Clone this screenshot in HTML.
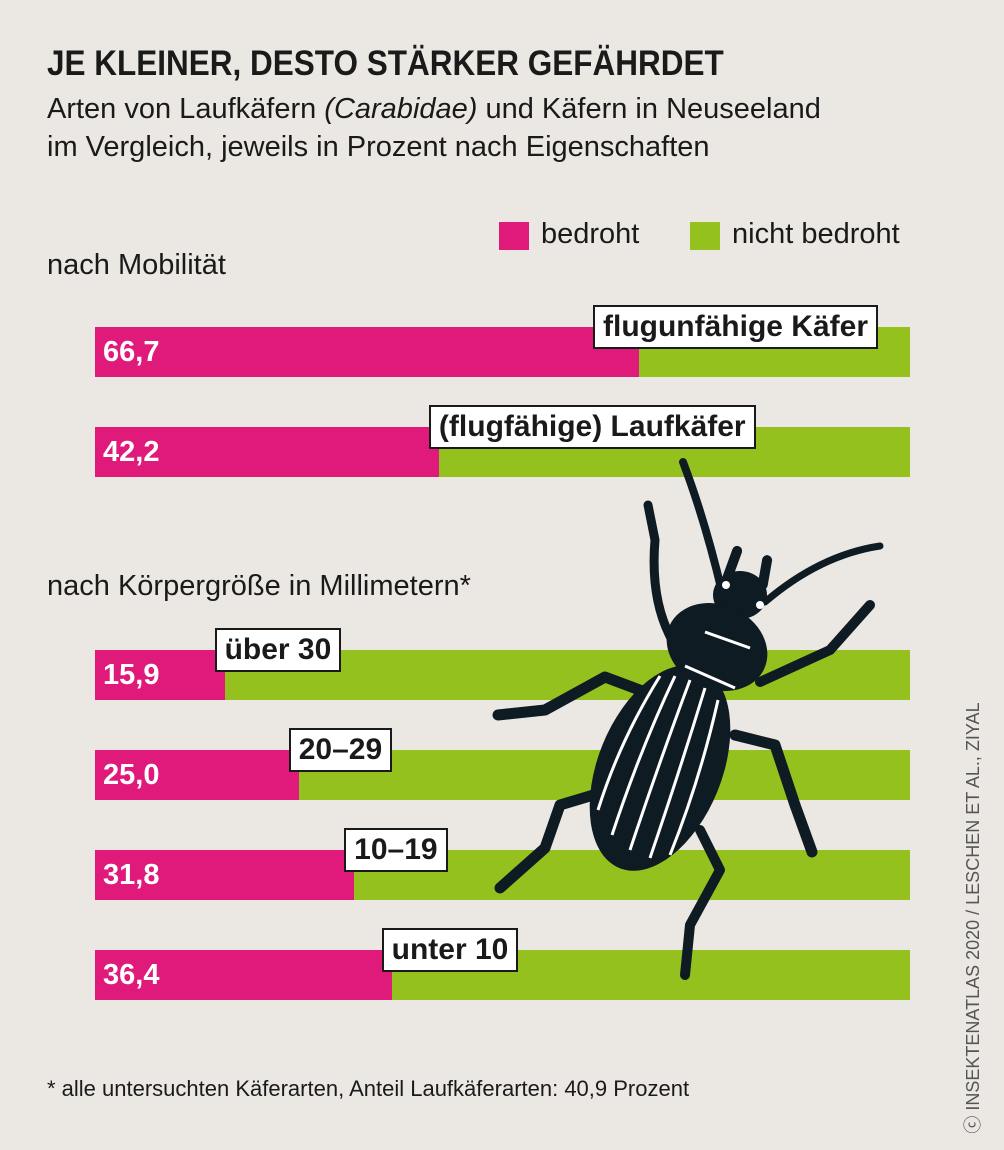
<!DOCTYPE html>
<html><head><meta charset="utf-8">
<style>
body{margin:0;background:#ebe8e4;}
#root{position:relative;width:1004px;height:1150px;background:#ebe8e4;overflow:hidden;font-family:"Liberation Sans Narrow","Liberation Sans",sans-serif;color:#1a1a1a;}
.t{position:absolute;white-space:nowrap;}
.bar{position:absolute;height:50px;}
.val{position:absolute;color:#fff;font-weight:bold;font-size:29px;line-height:50px;}
.box{position:absolute;background:#fff;border:2px solid #1a1a1a;font-weight:bold;font-size:30px;line-height:40px;padding:0 8px;box-sizing:border-box;height:44px;text-align:center;white-space:nowrap;}
</style></head>
<body>
<div id="root">
<div class="t" style="left:47px;top:44px;font-size:35px;font-weight:bold;transform:scaleX(0.9);transform-origin:0 0;">JE KLEINER, DESTO STÄRKER GEFÄHRDET</div>
<div class="t" style="left:47px;top:90px;font-size:29px;line-height:38px;">Arten von Laufkäfern <i>(Carabidae)</i> und Käfern in Neuseeland<br>im Vergleich, jeweils in Prozent nach Eigenschaften</div>
<div style="position:absolute;left:499px;top:222px;width:30px;height:28px;background:#e01a7b;"></div>
<div class="t" style="left:541px;top:218px;font-size:29px;">bedroht</div>
<div style="position:absolute;left:690px;top:222px;width:30px;height:28px;background:#95c11f;"></div>
<div class="t" style="left:732px;top:218px;font-size:29px;">nicht bedroht</div>
<div class="t" style="left:47px;top:249px;font-size:29px;">nach Mobilität</div>
<div class="t" style="left:47px;top:570px;font-size:29px;">nach Körpergröße in Millimetern*</div>
<div id="chart"></div>
<svg style="position:absolute;left:0;top:0" width="1004" height="1150">
<g fill="none" stroke="#0f1b22" stroke-linecap="round" stroke-linejoin="round">
<path d="M722 592 Q705 520 683 462" stroke-width="8"/>
<path d="M765 602 Q820 555 880 546" stroke-width="7"/>
<path d="M672 640 Q650 600 655 540 L648 505" stroke-width="9"/>
<path d="M760 682 L830 650 L870 605" stroke-width="10"/>
<path d="M645 692 L605 677 L545 710 L498 715" stroke-width="11"/>
<path d="M735 735 L775 745 L795 805 L812 852" stroke-width="11"/>
<path d="M610 790 L560 805 L545 848 L500 888" stroke-width="11"/>
<path d="M700 830 L720 870 L690 925 L685 975" stroke-width="10"/>
</g>
<g fill="#0f1b22">
<ellipse cx="740" cy="595" rx="27" ry="24"/>
<rect x="727" y="545" width="10" height="40" rx="5" transform="rotate(20 732 565)"/>
<rect x="760" y="555" width="10" height="35" rx="5" transform="rotate(10 765 572)"/>
<ellipse cx="717" cy="647" rx="52" ry="42" transform="rotate(25 717 647)"/>
<ellipse cx="660" cy="768" rx="62" ry="108" transform="rotate(22 660 768)"/>
</g>
<g stroke="#fff" stroke-width="3" fill="none">
<path d="M690 680 Q660 760 630 850"/><path d="M705 688 Q680 770 650 858"/><path d="M675 676 Q640 750 612 835"/><path d="M718 700 Q700 780 670 855"/><path d="M660 676 Q620 740 598 810"/>
<path d="M685 666 L735 688"/><path d="M705 632 L750 648"/>
</g>
<circle cx="726" cy="585" r="4" fill="#fff"/><circle cx="760" cy="605" r="4" fill="#fff"/>
</svg>
<div id="labels"></div>
<div class="t" style="left:47px;top:1076px;font-size:22px;">* alle untersuchten Käferarten, Anteil Laufkäferarten: 40,9 Prozent</div>
<div class="t" style="left:972px;top:918px;font-size:18px;color:#555;transform:translate(-50%,-50%) rotate(-90deg);">ⓒ INSEKTENATLAS 2020 / LESCHEN ET AL., ZIYAL</div>
</div>
<script>
const categories=["flugunfähige Käfer","(flugfähige) Laufkäfer","über 30","20–29","10–19","unter 10"];
const threatened=[66.7,42.2,15.9,25.0,31.8,36.4];
const valueLabels=["66,7","42,2","15,9","25,0","31,8","36,4"];
const rowTops=[327,427,650,750,850,950];
const X0=95,W=815;
function xs(v){return X0+v/100*W;}
const chart=document.getElementById('chart');
const root=document.getElementById('root');
categories.forEach((c,i)=>{
  const y=rowTops[i],xe=xs(threatened[i]);
  const g=document.createElement('div');g.className='bar';
  
  
  g.style.cssText=`left:${X0}px;top:${y}px;width:${W}px;background:#95c11f`;
  chart.appendChild(g);
  const p=document.createElement('div');p.className='bar';
  
  
  p.style.cssText=`left:${X0}px;top:${y}px;width:${xe-X0}px;background:#e01a7b`;
  chart.appendChild(p);
  const v=document.createElement('div');v.className='val';
  
  
  v.style.cssText=`left:${X0+8}px;top:${y}px`;
  v.textContent=valueLabels[i];
  chart.appendChild(v);
  const b=document.createElement('div');b.className='box';
  
  
  b.style.cssText=`left:${xe-10}px;top:${y-22}px`;
  b.textContent=c;
  root.appendChild(b);
  const bw=b.offsetWidth;
  if(xe-10+bw>878){b.style.left=(878-bw)+'px';}
});
</script>
</body></html>
